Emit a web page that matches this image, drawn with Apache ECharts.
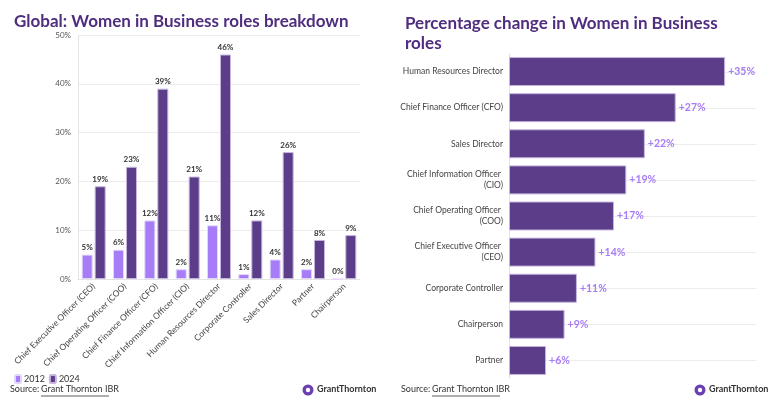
<!DOCTYPE html>
<html>
<head>
<meta charset="utf-8">
<script src="https://cdn.jsdelivr.net/npm/echarts@6/dist/echarts.min.js"></script>
<style>
  html, body { margin: 0; padding: 0; background: #fff; }
  #chart { width: 769px; height: 397px; }
</style>
</head>
<body>
<div id="chart"></div>
<script>
// left chart data
const roles = ['Chief Executive Officer (CEO)', 'Chief Operating Officer (COO)', 'Chief Finance Officer (CFO)',
  'Chief Information Officer (CIO)', 'Human Resources Director', 'Corporate Controller',
  'Sales Director', 'Partner', 'Chairperson']
const share2012 = [5, 6, 12, 2, 11, 1, 4, 2, 0]
const share2024 = [19, 23, 39, 21, 46, 12, 26, 8, 9]
const shareTicks = [0, 10, 20, 30, 40, 50]

// right chart data (top to bottom)
const changeRoles = ['Human Resources Director', 'Chief Finance Officer (CFO)', 'Sales Director',
  'Chief Information Officer (CIO)', 'Chief Operating Officer (COO)', 'Chief Executive Officer (CEO)',
  'Corporate Controller', 'Chairperson', 'Partner']
const changeValues = [35, 27, 22, 19, 17, 14, 11, 9, 6]
const changeMax = 40

const purple = '#5c3d8a'
const lilac = '#a67cf7'
const titleColor = '#4f2d7f'
const font = 'Lato, "Noto Sans", sans-serif'

const myChart = echarts.init(document.getElementById('chart'))

// 数据来源 + logo
function footer (x, logoX) {
  return [
    { type: 'text', left: x, top: 385, style: { text: 'Source:', font: '9px ' + font, fill: '#333' } },
    { type: 'text', left: x + 31, top: 385, style: { text: 'Grant Thornton IBR', font: '9px ' + font, fill: '#333' } },
    { type: 'line', shape: { x1: x + 31, y1: 396, x2: x + 99, y2: 396 }, style: { stroke: '#333', lineWidth: 0.8 } },
    { type: 'circle', shape: { cx: logoX, cy: 390, r: 5.5 }, style: { fill: '#6c3fb0' } },
    { type: 'circle', shape: { cx: logoX, cy: 390, r: 2.2 }, style: { fill: '#fff' } },
    { type: 'text', left: logoX + 9, top: 385, style: { text: 'GrantThornton', font: 'bold 9px ' + font, fill: '#333' } }
  ]
}

const option = {
  animation: false,
  textStyle: { fontFamily: font },
  title: [
    {
      text: 'Global: Women in Business roles breakdown',
      left: 9, top: 8,
      textStyle: { color: titleColor, fontSize: 17, fontWeight: 'bold', fontFamily: font }
    },
    {
      text: 'Percentage change in Women in Business\nroles',
      left: 400, top: 9,
      textStyle: { color: titleColor, fontSize: 17, fontWeight: 'bold', fontFamily: font, lineHeight: 20 }
    }
  ],
  legend: {
    left: 9, top: 369,
    itemWidth: 6, itemHeight: 8, itemGap: 4,
    icon: 'roundRect',
    textStyle: { color: '#333', fontSize: 9, padding: [0, 0, 0, -2] },
    selectedMode: false,
    data: ['2012', '2024']
  },
  grid: [
    { left: 78, right: 409, top: 35, bottom: 118 },
    { left: 509, right: 13, top: 53.5, bottom: 18.5 }
  ],
  xAxis: [
    {
      gridIndex: 0,
      type: 'category',
      data: roles,
      axisLine: { lineStyle: { color: '#e4e4e4' } },
      axisTick: { show: false },
      axisLabel: { rotate: 45, interval: 0, color: '#444', fontSize: 8.5, margin: 6 }
    },
    {
      gridIndex: 1,
      type: 'value',
      min: 0, max: changeMax,
      show: false
    }
  ],
  yAxis: [
    {
      gridIndex: 0,
      type: 'value',
      min: shareTicks[0], max: shareTicks[shareTicks.length - 1], interval: 10,
      axisLine: { show: true, lineStyle: { color: '#e4e4e4' } },
      axisTick: { show: false },
      axisLabel: { color: '#555', fontSize: 8, margin: 7, formatter: '{value}%' },
      splitLine: { lineStyle: { color: '#ececec' } }
    },
    {
      gridIndex: 1,
      type: 'category',
      inverse: true,
      data: changeRoles,
      axisLine: { lineStyle: { color: '#e4e4e4' } },
      axisTick: { show: false },
      axisLabel: { color: '#444', fontSize: 8.5, margin: 6, width: 106, overflow: 'break', lineHeight: 11 },
      splitLine: { show: false }
    }
  ],
  series: [
    {
      name: '2012',
      type: 'bar',
      xAxisIndex: 0, yAxisIndex: 0,
      data: share2012,
      barWidth: 11,
      barGap: '18%',
      itemStyle: { color: lilac, borderColor: '#e3d6fb', borderWidth: 1 },
      label: { show: true, position: 'top', distance: 3, formatter: '{c}%', color: '#333', fontSize: 8, fontWeight: 'bold' }
    },
    {
      name: '2024',
      type: 'bar',
      xAxisIndex: 0, yAxisIndex: 0,
      data: share2024,
      barWidth: 11,
      itemStyle: { color: purple, borderColor: '#c6b6df', borderWidth: 1 },
      label: { show: true, position: 'top', distance: 3, formatter: '{c}%', color: '#333', fontSize: 8, fontWeight: 'bold' }
    },
    {
      // 横向参考线，在每个类目中心
      name: 'guides',
      type: 'custom',
      xAxisIndex: 1, yAxisIndex: 1,
      silent: true,
      z: 1,
      data: changeRoles.map(r => [0, r]),
      encode: { x: 0, y: 1 },
      renderItem (params, api) {
        const start = api.coord([0, api.value(1)])
        const end = api.coord([changeMax, api.value(1)])
        return {
          type: 'line',
          shape: { x1: start[0], y1: Math.round(start[1]) + 0.5, x2: end[0], y2: Math.round(end[1]) + 0.5 },
          style: { stroke: '#ececec', lineWidth: 1 }
        }
      }
    },
    {
      name: 'change',
      type: 'bar',
      xAxisIndex: 1, yAxisIndex: 1,
      data: changeValues,
      barWidth: 29,
      z: 3,
      itemStyle: { color: purple, borderColor: '#c6b6df', borderWidth: 1 },
      label: { show: true, position: 'right', distance: 3, formatter: '+{c}%', color: lilac, fontSize: 10.5, fontWeight: 'bold' }
    }
  ],
  graphic: footer(10, 308).concat(footer(401, 700))
}

myChart.setOption(option)
</script>
</body>
</html>
